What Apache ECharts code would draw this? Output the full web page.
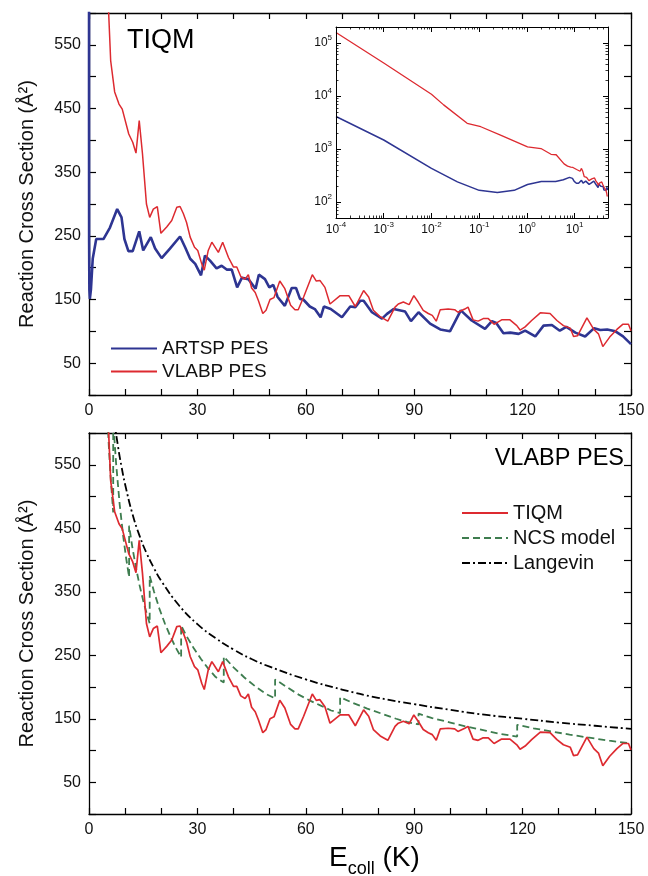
<!DOCTYPE html>
<html><head><meta charset="utf-8">
<script src="https://cdn.jsdelivr.net/npm/echarts@6/dist/echarts.min.js"></script>
<style>html,body{margin:0;padding:0;background:#fff}#c{width:648px;height:876px}</style>
</head><body><div id="c"></div>
<script>
// ---- DATA ----
// ARTSP PES (TIQM) : collision energy (K) and cross section (Å^2)
const artE = [1e-4,1e-3,1e-2,0.035,0.1,0.24,0.54,1.03,2.0,4.0,5.8,7.8,9.0,9.8,10.9,12.1,13.9,15.0,17.1,18.3,20.1,22.4,25.2,26.6,28.0,29.4,31.0,32.1,33.5,35.3,36.7,38.1,39.5,41.0,42.3,44.1,46.1,47.0,48.7,49.9,51.0,52.2,54.2,56.1,57.3,58.4,59.3,61.1,62.5,64.1,65.0,66.9,70.0,72.3,73.7,75.1,76.0,78.3,81.1,82.4,84.3,87.5,89.1,91.2,94.4,97.2,99.9,102.9,105.9,109.6,111.5,112.7,114.7,116.6,118.9,120.7,123.5,125.8,128.1,130.3,132.1,134.6,137.3,139.8,141.5,143.4,145.7,147.8,150];
const artS = [4100,1480,430,240,166,151,166,214,245,245,263,292,279,245,226,226,257,227,248,230,215,230,249,232,214,206,188,219,211,199,203,197,197,169,184,182,167,189,182,169,173,154,140,168,168,151,150,139,135,122,139,135,122,139,138,148,148,130,120,127,135,131,116,130,112,103,100,133,117,104,116,113,97,98,96,101,92,109,110,101,107,98,92,105,102,103,100,92,80];
// VLABP PES (TIQM)
const vlaE = [1e-4,1e-3,1e-2,0.018,0.056,0.108,0.28,1.03,1.97,3.2,4.1,6.0,7.1,8.3,9.2,11.0,12.1,13.0,13.9,14.8,15.9,16.8,17.8,18.9,19.9,21.5,22.9,24.3,25.2,26.1,27.0,28.0,29.2,30.1,31.2,31.9,33.0,34.0,35.8,37.0,38.6,40.0,40.9,42.0,43.2,44.1,45.0,46.0,46.9,48.1,49.0,50.1,51.2,52.8,54.2,55.8,57.0,57.9,59.4,61.8,62.9,63.9,65.3,66.7,69.5,71.9,73.7,76.0,77.4,78.7,80.6,82.7,84.7,85.6,87.0,88.6,89.9,91.1,92.5,93.9,95.0,96.1,97.2,99.4,101.2,102.1,104.0,104.9,106.3,107.7,109.1,110.5,112.1,114.2,116.5,118.4,119.3,120.7,122.5,124.9,127.6,129.5,131.3,133.2,134.1,135.2,137.8,139.7,141.0,142.2,144.1,146.1,147.7,149.3,150];
const vlaS = [158000,42000,10800,6800,3050,2630,1830,1100,1020,795,780,525,476,457,449,410,397,380,431,379,300,279,292,296,254,264,274,295,296,285,271,248,232,227,206,196,227,240,224,240,216,201,201,186,182,189,168,161,148,128,133,150,153,179,167,141,134,134,154,189,179,180,169,143,156,156,139,164,154,133,123,116,138,143,146,142,156,146,133,128,125,116,134,135,134,130,135,138,118,116,120,120,111,118,118,109,102,107,117,129,128,117,109,105,92,93,121,103,96,76,91,103,111,111,101];
// NCS model (VLABP PES)
const ncsE = [4.5,5.0,5.5,6.0,6.7,6.7,7.5,8.5,9.5,10.3,11.1,11.1,12,13,14,15,16,16.8,16.8,18,19.5,21,22.5,24,25.5,25.5,27,29,31,33,35,37.3,37.3,40,43,46,49,51.5,51.5,55,58,61,64,67,69.5,69.5,73,77,81,85,88,91.2,91.2,95,100,105,110,114,118.5,118.5,123,128,133,138,144,150];
const ncsS = [707,636,578,530,475,618,552,487,436,402,373,454,420,388,360,336,315,300,375,350,323,300,280,262,247,297,280,261,244,229,216,207,248,231,215,201,189,182,212,199,188,179,171,163,159,184,175,166,158,150,145,141,158,151,144,137,131,126,122,140.5,135,130,125,120.5,115.5,111];
// Langevin (VLABP PES)
const langE = [6,7,8,9,10,12,14,16,18,20,25,30,35,40,45,50,60,70,80,90,100,110,120,130,140,150];
const langS = [670,620,580,547,519,473,438,410,387,367,328,299,277,259,244,232,212,196,183,173,164,156,150,144,139,134];
// tick labels
const xTickLabels = [0,30,60,90,120,150];
const yTickLabels = [50,150,250,350,450,550];

// ---- CHART ----
const FONT = '"Liberation Sans", Arial, Helvetica, sans-serif';
const BLUE = '#2e3592', RED = '#dd2a30', GREEN = '#3e7d4f', BLACK = '#000';
const pairs = (xs, ys, f) => xs.map((x, i) => [x, ys[i]]).filter(p => !f || f(p));

const axLine = {show: true, onZero: false, lineStyle: {color: '#000', width: 1.3}};
function linX(grid, pos, show) {
  return {type: 'value', gridIndex: grid, position: pos, min: 0, max: 150, interval: 10,
    axisLine: axLine,
    axisTick: {show: true, inside: true, length: 6, lineStyle: {color: '#000', width: 1.2}},
    axisLabel: {show: show, margin: 8, fontSize: 16, color: '#111', fontFamily: FONT,
      formatter: v => (xTickLabels.indexOf(v) >= 0 ? String(v) : '')},
    splitLine: {show: false}};
}
function linY(grid, pos, show) {
  const o = {type: 'value', gridIndex: grid, position: pos, min: 0, max: 600, interval: 50,
    axisLine: axLine,
    axisTick: {show: true, inside: true, length: 7, lineStyle: {color: '#000', width: 1.2}},
    axisLabel: {show: show, margin: 8, fontSize: 16, color: '#111', fontFamily: FONT,
      formatter: v => (yTickLabels.indexOf(v) >= 0 ? String(v) : '')},
    splitLine: {show: false}};
  if (show) {
    o.name = 'Reaction Cross Section (Å²)';
    o.nameLocation = 'middle';
    o.nameGap = 52;
    o.nameTextStyle = {fontSize: 20, color: '#111', fontFamily: FONT};
  }
  return o;
}
const supRich = {
  b: {fontSize: 12, lineHeight: 14, color: '#111', fontFamily: FONT},
  s: {fontSize: 8, lineHeight: 8, padding: [0, 0, 10, 0], color: '#111', fontFamily: FONT}
};
function supFmt(v) {
  const l = Math.log10(v), r = Math.round(l);
  if (Math.abs(l - r) > 0.01) return '';
  return '{b|10}{s|' + r + '}';
}
function logAx(pos, min, max, show, isX) {
  return {type: 'log', logBase: 10, gridIndex: 2, position: pos, min: min, max: max, z: 8,
    axisLine: {show: true, onZero: false, lineStyle: {color: '#000', width: 1}},
    axisTick: {show: true, inside: true, length: 5, lineStyle: {color: '#000', width: 1}},
    minorTick: {show: true, splitNumber: 9, length: 2.5, lineStyle: {color: '#000', width: 0.8}},
    axisLabel: {show: show, margin: isX ? 5 : 4, formatter: supFmt, rich: supRich},
    splitLine: {show: false}};
}

const option = {
  animation: false,
  backgroundColor: '#fff',
  grid: [
    {left: 89, right: 17, top: 13, height: 382},
    {left: 89, right: 17, top: 433, height: 381},
    {left: 336, top: 27, width: 272, height: 191}
  ],
  xAxis: [linX(0, 'bottom', true), linX(0, 'top', false), linX(1, 'bottom', true), linX(1, 'top', false),
          logAx('bottom', 1e-4, 50, true, true), logAx('top', 1e-4, 50, false, true)],
  yAxis: [linY(0, 'left', true), linY(0, 'right', false), linY(1, 'left', true), linY(1, 'right', false),
          logAx('left', 50, 200000, true, false), logAx('right', 50, 200000, false, false)],
  legend: [
    {data: ['ARTSP PES', 'VLABP PES'], orient: 'vertical', left: 105, top: 334, itemWidth: 46, itemHeight: 12,
     itemGap: 4, selectedMode: false, itemStyle: {opacity: 0}, textStyle: {fontSize: 19, color: '#111', fontFamily: FONT}},
    {data: ['TIQM', 'NCS model', 'Langevin'], orient: 'vertical', left: 456, top: 498, itemWidth: 46, itemHeight: 12,
     itemGap: 5, selectedMode: false, itemStyle: {opacity: 0}, textStyle: {fontSize: 20, color: '#111', fontFamily: FONT}}
  ],
  graphic: [
    {type: 'text', x: 127, y: 41, style: {text: 'TIQM', fontSize: 27, fontFamily: FONT, fill: '#000', verticalAlign: 'middle'}},
    {type: 'text', x: 624, y: 459, style: {text: 'VLABP PES', fontSize: 23.5, fontFamily: FONT, fill: '#000', align: 'right', verticalAlign: 'middle'}},
    {type: 'text', x: 329, y: 858, style: {text: '{e|E}{s|coll}{e| (K)}', verticalAlign: 'middle', fill: '#000',
      rich: {e: {fontSize: 28, lineHeight: 40, fontFamily: FONT, fill: '#000'},
             s: {fontSize: 18, lineHeight: 18, padding: [22, 0, 0, 0], fontFamily: FONT, fill: '#000'}}}}
  ],
  series: [
    {name: 'ARTSP PES', type: 'line', xAxisIndex: 0, yAxisIndex: 0, data: pairs(artE, artS), symbol: 'none',
     lineStyle: {color: BLUE, width: 2.6}, itemStyle: {color: BLUE}, clip: true},
    {name: 'VLABP PES', type: 'line', xAxisIndex: 0, yAxisIndex: 0, data: pairs(vlaE, vlaS), symbol: 'none',
     lineStyle: {color: RED, width: 1.5}, itemStyle: {color: RED}, clip: true},
    {name: 'inset ARTSP', type: 'line', xAxisIndex: 4, yAxisIndex: 4, data: pairs(artE, artS, p => p[0] <= 50), symbol: 'none',
     lineStyle: {color: BLUE, width: 1.5}, itemStyle: {color: BLUE}, clip: true, z: 6},
    {name: 'inset VLABP', type: 'line', xAxisIndex: 4, yAxisIndex: 4, data: pairs(vlaE, vlaS, p => p[0] <= 50), symbol: 'none',
     lineStyle: {color: RED, width: 1.3}, itemStyle: {color: RED}, clip: true, z: 6},
    {name: 'Langevin', type: 'line', xAxisIndex: 2, yAxisIndex: 2, data: pairs(langE, langS), symbol: 'none', smooth: true,
     lineStyle: {color: BLACK, width: 1.8, type: [8, 3, 2, 3]}, itemStyle: {color: BLACK}, clip: true},
    {name: 'NCS model', type: 'line', xAxisIndex: 2, yAxisIndex: 2, data: pairs(ncsE, ncsS), symbol: 'none',
     lineStyle: {color: GREEN, width: 1.8, type: [7, 4]}, itemStyle: {color: GREEN}, clip: true},
    {name: 'TIQM', type: 'line', xAxisIndex: 2, yAxisIndex: 2, data: pairs(vlaE, vlaS), symbol: 'none',
     lineStyle: {color: RED, width: 1.7}, itemStyle: {color: RED}, clip: true}
  ]
};
const chart = echarts.init(document.getElementById('c'), null, {renderer: 'canvas'});
chart.setOption(option);
</script></body></html>
